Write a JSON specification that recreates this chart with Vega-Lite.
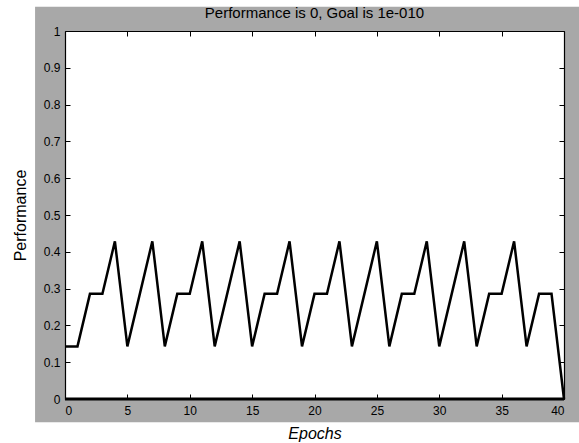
{
  "$schema": "https://vega.github.io/schema/vega-lite/v6.json",
  "width": 499,
  "height": 368,
  "autosize": {"type": "none"},
  "padding": {"left": 65, "top": 31, "right": 15, "bottom": 44},
  "background": "white",
  "title": {
    "text": "Performance is 0, Goal is 1e-010",
    "font": "Liberation Sans",
    "fontSize": 15,
    "fontWeight": "normal",
    "color": "black",
    "anchor": "middle",
    "offset": -14,
    "zindex": 1
  },
  "config": {
    "view": {"stroke": null},
    "axis": {
      "labelFont": "Liberation Sans",
      "labelFontSize": 12,
      "labelColor": "black",
      "titleFont": "Liberation Sans",
      "titleFontSize": 16,
      "titleFontWeight": "normal",
      "titleColor": "black",
      "domainColor": "black",
      "domainWidth": 1.2,
      "tickColor": "black",
      "tickSize": -5,
      "tickWidth": 1,
      "grid": false
    }
  },
  "datasets": {
    "perf": [
      {"epoch": 0, "perf": 0.1429},
      {"epoch": 1, "perf": 0.1429},
      {"epoch": 2, "perf": 0.2857},
      {"epoch": 3, "perf": 0.2857},
      {"epoch": 4, "perf": 0.4286},
      {"epoch": 5, "perf": 0.1429},
      {"epoch": 6, "perf": 0.2857},
      {"epoch": 7, "perf": 0.4286},
      {"epoch": 8, "perf": 0.1429},
      {"epoch": 9, "perf": 0.2857},
      {"epoch": 10, "perf": 0.2857},
      {"epoch": 11, "perf": 0.4286},
      {"epoch": 12, "perf": 0.1429},
      {"epoch": 13, "perf": 0.2857},
      {"epoch": 14, "perf": 0.4286},
      {"epoch": 15, "perf": 0.1429},
      {"epoch": 16, "perf": 0.2857},
      {"epoch": 17, "perf": 0.2857},
      {"epoch": 18, "perf": 0.4286},
      {"epoch": 19, "perf": 0.1429},
      {"epoch": 20, "perf": 0.2857},
      {"epoch": 21, "perf": 0.2857},
      {"epoch": 22, "perf": 0.4286},
      {"epoch": 23, "perf": 0.1429},
      {"epoch": 24, "perf": 0.2857},
      {"epoch": 25, "perf": 0.4286},
      {"epoch": 26, "perf": 0.1429},
      {"epoch": 27, "perf": 0.2857},
      {"epoch": 28, "perf": 0.2857},
      {"epoch": 29, "perf": 0.4286},
      {"epoch": 30, "perf": 0.1429},
      {"epoch": 31, "perf": 0.2857},
      {"epoch": 32, "perf": 0.4286},
      {"epoch": 33, "perf": 0.1429},
      {"epoch": 34, "perf": 0.2857},
      {"epoch": 35, "perf": 0.2857},
      {"epoch": 36, "perf": 0.4286},
      {"epoch": 37, "perf": 0.1429},
      {"epoch": 38, "perf": 0.2857},
      {"epoch": 39, "perf": 0.2857},
      {"epoch": 40, "perf": 0}
    ],
    "goal": [
      {"epoch": 0, "perf": 1e-10},
      {"epoch": 40, "perf": 1e-10}
    ],
    "panel": [{"name": "figure"}]
  },
  "layer": [
    {
      "data": {"name": "panel"},
      "mark": {"type": "rect", "color": "#a8a8a8", "clip": false},
      "encoding": {
        "x": {"datum": -2.4, "type": "quantitative", "scale": {"domain": [0, 40], "nice": false, "zero": false}, "axis": null},
        "x2": {"datum": 41.3},
        "y": {"datum": -0.063, "type": "quantitative", "scale": {"domain": [0, 1], "nice": false, "zero": false}, "axis": null},
        "y2": {"datum": 1.066}
      }
    },
    {
      "data": {"name": "panel"},
      "mark": {"type": "rect", "color": "white", "clip": false},
      "encoding": {
        "x": {"datum": 0, "type": "quantitative", "axis": null},
        "x2": {"datum": 40},
        "y": {"datum": 0, "type": "quantitative", "axis": null},
        "y2": {"datum": 1}
      }
    },
    {
      "data": {"name": "goal"},
      "mark": {"type": "line", "color": "black", "strokeWidth": 3, "clip": false},
      "encoding": {
        "x": {"field": "epoch", "type": "quantitative", "axis": {"orient": "top", "labels": false, "title": null, "zindex": 1, "values": [0, 5, 10, 15, 20, 25, 30, 35, 40]}},
        "y": {"field": "perf", "type": "quantitative", "axis": {"orient": "right", "labels": false, "title": null, "zindex": 1, "values": [0, 0.1, 0.2, 0.3, 0.4, 0.5, 0.6, 0.7, 0.8, 0.9, 1]}}
      }
    },
    {
      "data": {"name": "perf"},
      "mark": {"type": "line", "color": "black", "strokeWidth": 2.5, "clip": false},
      "encoding": {
        "x": {"field": "epoch", "type": "quantitative", "axis": {"orient": "bottom", "title": "Epochs", "titleFontStyle": "italic", "zindex": 1, "values": [0, 5, 10, 15, 20, 25, 30, 35, 40], "labelPadding": 11, "titlePadding": 9}},
        "y": {"field": "perf", "type": "quantitative", "axis": {"orient": "left", "title": "Performance", "format": "~g", "zindex": 1, "values": [0, 0.1, 0.2, 0.3, 0.4, 0.5, 0.6, 0.7, 0.8, 0.9, 1], "labelPadding": 10, "titlePadding": 15}}
      }
    }
  ],
  "resolve": {"axis": {"x": "independent", "y": "independent"}}
}
